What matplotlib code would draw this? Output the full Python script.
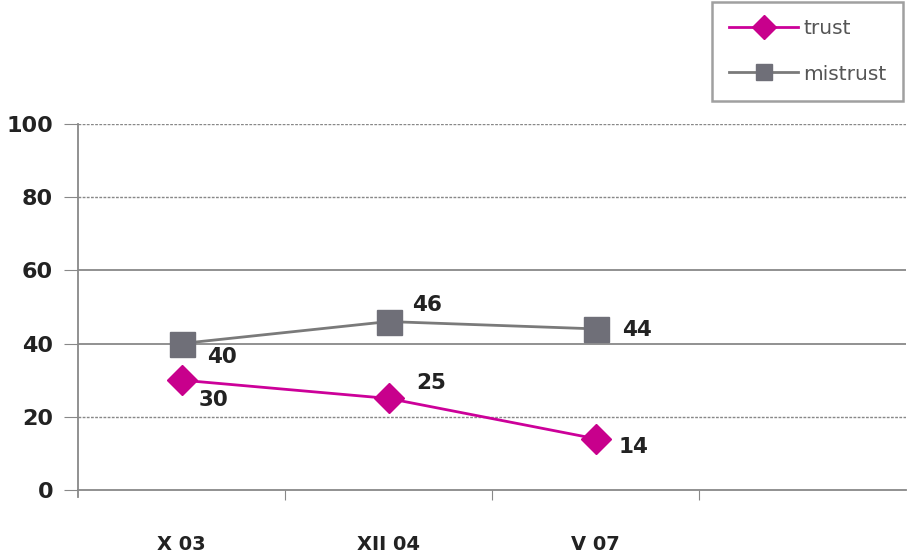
import matplotlib.pyplot as plt
from matplotlib.lines import Line2D

cats = ["X 03", "XII 04", "V 07"]
trust = [30, 25, 14]
mistrust = [40, 46, 44]
yticks = [0, 20, 40, 60, 80, 100]

# label offsets in points (dx, dy) per point
trust_off = [(23, -14), (31, 11), (27, -6)]
mistrust_off = [(29, -10), (28, 12), (30, -1)]

plt.rcParams['font.family'] = ['DejaVu Sans']

fig = plt.figure(figsize=(9.07, 5.53), dpi=100)
ax = fig.add_axes([0.086, 0.114, 0.913, 0.662])

x = list(range(len(cats)))
ax.plot(x, mistrust, color="#7a7a7a", lw=2, marker="s", ms=18,
        mfc="#6f6f78", mec="#6f6f78", zorder=3)
ax.plot(x, trust, color="#cc0099", lw=2, marker="D", ms=15,
        mfc="#c8008c", mec="#c8008c", zorder=4)

for xi, v, o in zip(x, trust, trust_off):
    ax.annotate(str(v), (xi, v), xytext=o, textcoords="offset points",
                ha="center", va="center", fontsize=15.5, fontweight="bold", color="#222222")
for xi, v, o in zip(x, mistrust, mistrust_off):
    ax.annotate(str(v), (xi, v), xytext=o, textcoords="offset points",
                ha="center", va="center", fontsize=15.5, fontweight="bold", color="#222222")

ax.set_xlim(-0.5, 3.5)
ax.set_ylim(0, 100)
ax.set_yticks(yticks)
ax.set_yticklabels([str(t) for t in yticks], fontsize=16, fontweight="bold", color="#222222")
ax.set_xticks([0.5, 1.5, 2.5])
ax.set_xticklabels([])
ax.tick_params(axis="x", direction="out", length=7, color="#888888")
ax.tick_params(axis="y", direction="out", length=10, color="#888888", pad=8)
for xi, c in zip(x, cats):
    ax.text(xi, -0.15, c, transform=ax.get_xaxis_transform(), ha="center", va="center",
            fontsize=14, fontweight="bold", color="#222222")

# gridlines: 40 and 60 solid, rest dotted
for t in yticks[1:]:
    if t in (40, 60):
        ax.axhline(t, color="#888888", lw=1.3, zorder=1)
    else:
        ax.axhline(t, color="#888888", lw=1.0, ls=(0, (2, 1)), zorder=1)

for s in ["top", "right"]:
    ax.spines[s].set_visible(False)
ax.spines["left"].set_color("#888888")
ax.spines["bottom"].set_color("#888888")
ax.spines["left"].set_linewidth(1.3)
ax.spines["bottom"].set_linewidth(1.3)
ax.spines["left"].set_bounds(-2, 100)

handles = [
    Line2D([], [], color="#cc0099", lw=2, marker="D", ms=12, mfc="#c8008c", mec="#c8008c"),
    Line2D([], [], color="#7a7a7a", lw=2, marker="s", ms=12, mfc="#6f6f78", mec="#6f6f78"),
]
leg = fig.legend(handles, ["trust", "mistrust"], loc="upper right",
                 bbox_to_anchor=(0.996, 0.996), borderaxespad=0.0,
                 fontsize=14.5, handlelength=3.4,
                 frameon=True, fancybox=False, borderpad=0.85, labelspacing=1.3,
                 handletextpad=0.25)
leg.get_frame().set_edgecolor("#888888")
leg.get_frame().set_linewidth(1.8)
for t in leg.get_texts():
    t.set_color("#555555")

fig.savefig("out.png", dpi=100)
